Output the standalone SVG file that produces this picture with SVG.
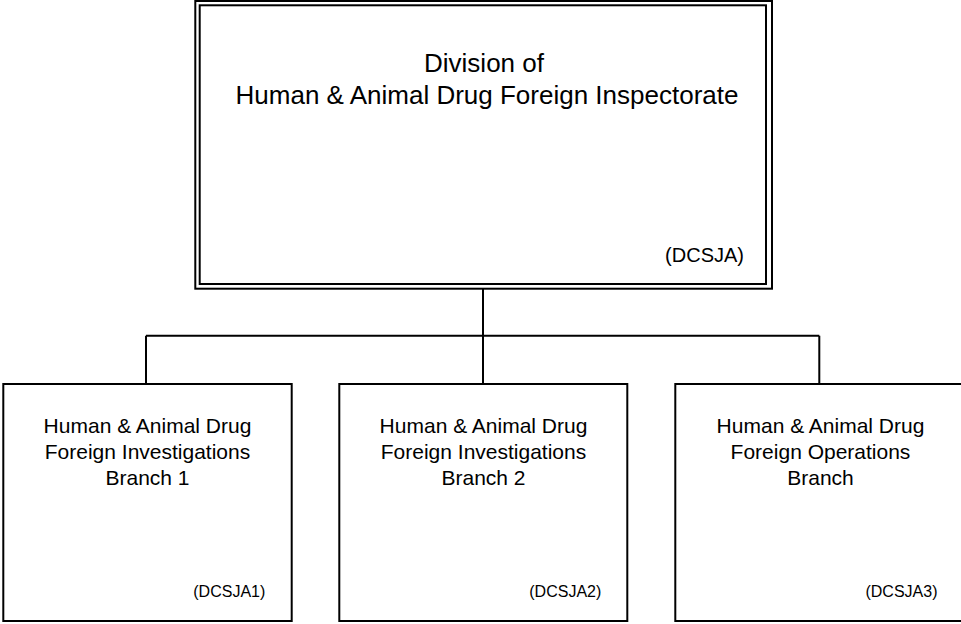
<svg xmlns="http://www.w3.org/2000/svg" width="961" height="624" viewBox="0 0 961 624">
<style>
.box{fill:#ffffff;stroke:#000000;stroke-width:2}
.dbl{fill:none;stroke:#000000;stroke-width:2}
.conn{fill:none;stroke:#000000;stroke-width:2}
text{font-family:"Liberation Sans",Arial,sans-serif;fill:#000000}
.title{font-size:26px;text-anchor:middle}
.code{font-size:20px;text-anchor:end}
.lbl{font-size:21px;text-anchor:middle}
.sub{font-size:16px;text-anchor:end}
</style>
<rect x="0" y="0" width="961" height="624" fill="#ffffff"/>
<g id="connectors">
<path class="conn" d="M483,288.7 V384 M146,335.7 H819.3 M146,335.7 V384 M819.3,335.7 V384"/>
</g>
<g id="division">
<rect class="box" x="195.3" y="1" width="576.7" height="287.7"/>
<rect class="dbl" x="199.7" y="5.3" width="566.3" height="278.7"/>
<text class="title" x="484" y="72">Division of</text>
<text class="title" x="487" y="104">Human &amp; Animal Drug Foreign Inspectorate</text>
<text class="code" x="744" y="262">(DCSJA)</text>
</g>
<g id="branch1">
<rect class="box" x="3.3" y="384" width="288.4" height="237"/>
<text class="lbl" x="147.5" y="433.3">Human &amp; Animal Drug</text>
<text class="lbl" x="147.5" y="459">Foreign Investigations</text>
<text class="lbl" x="147.5" y="484.5">Branch 1</text>
<text class="sub" x="265.3" y="597">(DCSJA1)</text>
</g>
<g id="branch2">
<rect class="box" x="339.3" y="384" width="288" height="237"/>
<text class="lbl" x="483.5" y="433.3">Human &amp; Animal Drug</text>
<text class="lbl" x="483.5" y="459">Foreign Investigations</text>
<text class="lbl" x="483.5" y="484.5">Branch 2</text>
<text class="sub" x="601.3" y="597">(DCSJA2)</text>
</g>
<g id="branch3">
<rect class="box" x="675.3" y="384" width="290" height="237"/>
<text class="lbl" x="820.5" y="433.3">Human &amp; Animal Drug</text>
<text class="lbl" x="820.5" y="459">Foreign Operations</text>
<text class="lbl" x="820.5" y="484.5">Branch</text>
<text class="sub" x="937.5" y="597">(DCSJA3)</text>
</g>
</svg>
